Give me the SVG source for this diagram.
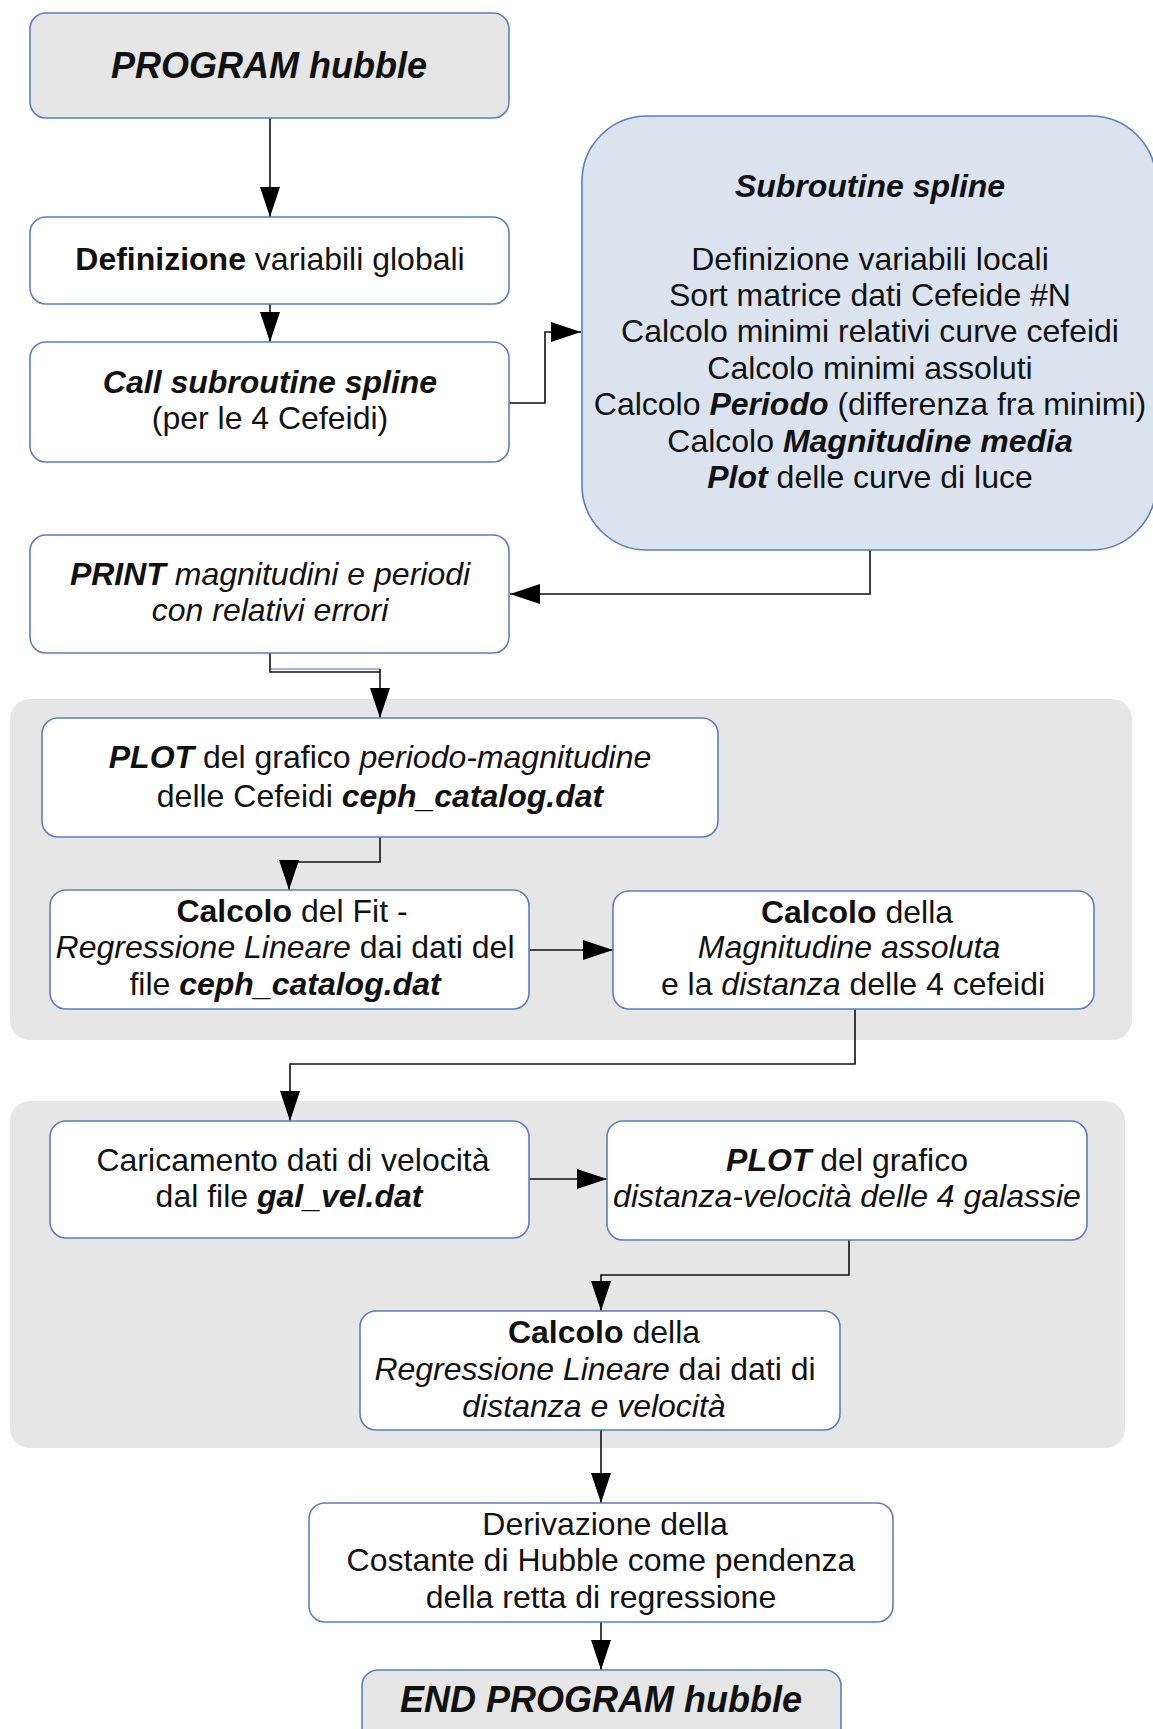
<svg xmlns="http://www.w3.org/2000/svg" width="1153" height="1729" viewBox="0 0 1153 1729">
<defs>
<marker id="arr" markerUnits="userSpaceOnUse" markerWidth="30" markerHeight="20" refX="30" refY="10" orient="auto">
<path d="M0,0 L30,10 L0,20 z" fill="#000"/>
</marker>
<style>
.box{fill:#fff;stroke:#5a7fbf;stroke-width:1.6}
.grey{fill:#e6e6e6;stroke:#5a7fbf;stroke-width:1.6}
.sub{fill:#dae3ee;stroke:#5a7fbf;stroke-width:1.6}
.panel{fill:#e6e6e6;stroke:none}
.t{font-family:"Liberation Sans",Arial,sans-serif;font-size:32px;fill:#111;text-anchor:middle}
.title{font-size:36px;font-weight:bold;font-style:italic}
.b{font-weight:bold}
.i{font-style:italic}
.bi{font-weight:bold;font-style:italic}
.c{fill:none;stroke:#111;stroke-width:1.6}
</style>
</defs>
<rect width="1153" height="1729" fill="#fff"/>
<g id="panel1"><rect class="panel" x="10" y="699" width="1122" height="341" rx="20"/></g>
<g id="panel2"><rect class="panel" x="10" y="1101" width="1115" height="347" rx="20"/></g>

<g id="connectors">
<path class="c" d="M270 118 V217" marker-end="url(#arr)"/>
<path class="c" d="M270 304 V342" marker-end="url(#arr)"/>
<path class="c" d="M509 403 H545 V332 H581" marker-end="url(#arr)"/>
<path class="c" d="M870 550 V594 H510" marker-end="url(#arr)"/>
<path d="M271 669 H380" fill="none" stroke="#4a6fa8" stroke-width="1.2"/>
<path class="c" d="M270 653 V672 H380" />
<path class="c" d="M380 669 V718" marker-end="url(#arr)"/>
<path class="c" d="M380 837 V862 H289 V890" marker-end="url(#arr)"/>
<path class="c" d="M529 950 H613" marker-end="url(#arr)"/>
<path class="c" d="M855 1009 V1064 H290 V1121" marker-end="url(#arr)"/>
<path class="c" d="M529 1179 H607" marker-end="url(#arr)"/>
<path class="c" d="M849 1240 V1275 H601 V1311" marker-end="url(#arr)"/>
<path class="c" d="M601 1430 V1503" marker-end="url(#arr)"/>
<path class="c" d="M601 1622 V1670" marker-end="url(#arr)"/>
</g>

<g id="start">
<rect class="grey" x="30" y="13" width="479" height="105" rx="16"/>
<text class="t title" x="269" y="78">PROGRAM hubble</text>
</g>
<g id="globali">
<rect class="box" x="30" y="217" width="479" height="87" rx="16"/>
<text class="t" x="270" y="270"><tspan class="b">Definizione</tspan> variabili globali</text>
</g>
<g id="call">
<rect class="box" x="30" y="342" width="479" height="120" rx="16"/>
<text class="t" x="270" y="393"><tspan class="bi">Call subroutine spline</tspan></text>
<text class="t" x="270" y="429">(per le 4 Cefeidi)</text>
</g>
<g id="subroutine">
<rect class="sub" x="582" y="116" width="574" height="434" rx="65"/>
<text class="t bi" x="870" y="197">Subroutine spline</text>
<text class="t" x="870" y="270">Definizione variabili locali</text>
<text class="t" x="870" y="306">Sort matrice dati Cefeide #N</text>
<text class="t" x="870" y="342">Calcolo minimi relativi curve cefeidi</text>
<text class="t" x="870" y="379">Calcolo minimi assoluti</text>
<text class="t" x="870" y="415">Calcolo <tspan class="bi">Periodo</tspan> (differenza fra minimi)</text>
<text class="t" x="870" y="452">Calcolo <tspan class="bi">Magnitudine media</tspan></text>
<text class="t" x="870" y="488"><tspan class="bi">Plot</tspan> delle curve di luce</text>
</g>
<g id="print">
<rect class="box" x="30" y="535" width="479" height="118" rx="16"/>
<text class="t i" x="270" y="585"><tspan class="bi">PRINT</tspan> magnitudini e periodi</text>
<text class="t i" x="270" y="621">con relativi errori</text>
</g>
<g id="plot1">
<rect class="box" x="42" y="718" width="676" height="119" rx="16"/>
<text class="t" x="380" y="768"><tspan class="bi">PLOT</tspan> del grafico <tspan class="i">periodo-magnitudine</tspan></text>
<text class="t" x="380" y="807">delle Cefeidi <tspan class="bi">ceph_catalog.dat</tspan></text>
</g>
<g id="fit">
<rect class="box" x="50" y="890" width="479" height="119" rx="16"/>
<text class="t" x="292" y="922"><tspan class="b">Calcolo</tspan> del Fit -</text>
<text class="t" x="285" y="958"><tspan class="i">Regressione Lineare</tspan> dai dati del</text>
<text class="t" x="285" y="995">file <tspan class="bi">ceph_catalog.dat</tspan></text>
</g>
<g id="magass">
<rect class="box" x="613" y="891" width="481" height="118" rx="16"/>
<text class="t" x="857" y="923"><tspan class="b">Calcolo</tspan> della</text>
<text class="t i" x="849" y="958">Magnitudine assoluta</text>
<text class="t" x="853" y="995">e la <tspan class="i">distanza</tspan> delle 4 cefeidi</text>
</g>
<g id="caricamento">
<rect class="box" x="50" y="1121" width="479" height="117" rx="16"/>
<text class="t" x="293" y="1171">Caricamento dati di velocità</text>
<text class="t" x="289" y="1207">dal file <tspan class="bi">gal_vel.dat</tspan></text>
</g>
<g id="plot2">
<rect class="box" x="607" y="1121" width="480" height="119" rx="16"/>
<text class="t" x="847" y="1171"><tspan class="bi">PLOT</tspan> del grafico</text>
<text class="t i" x="847" y="1207">distanza-velocità delle 4 galassie</text>
</g>
<g id="regressione">
<rect class="box" x="360" y="1311" width="480" height="119" rx="16"/>
<text class="t" x="604" y="1343"><tspan class="b">Calcolo</tspan> della</text>
<text class="t" x="595" y="1380"><tspan class="i">Regressione Lineare</tspan> dai dati di</text>
<text class="t i" x="594" y="1417">distanza e velocità</text>
</g>
<g id="derivazione">
<rect class="box" x="309" y="1503" width="584" height="119" rx="16"/>
<text class="t" x="605" y="1535">Derivazione della</text>
<text class="t" x="601" y="1571">Costante di Hubble come pendenza</text>
<text class="t" x="601" y="1608">della retta di regressione</text>
</g>
<g id="end">
<rect class="grey" x="362" y="1670" width="479" height="80" rx="16"/>
<text class="t title" x="601" y="1712">END PROGRAM hubble</text>
</g>
</svg>
